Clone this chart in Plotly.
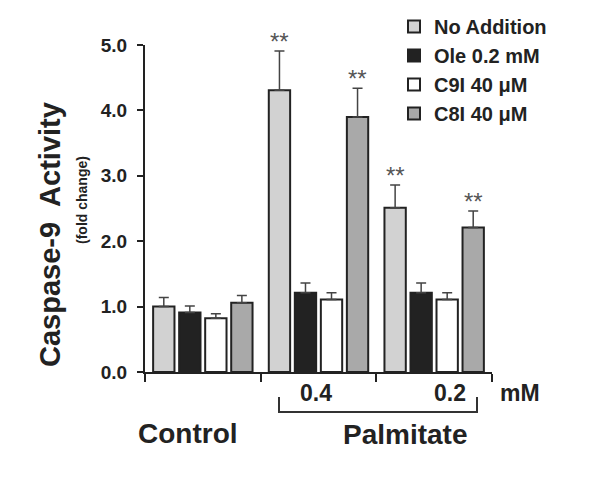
import plotly.graph_objects as go

# ---- data ----
groups = ["Control", "0.4", "0.2"]
series_names = ["No Addition", "Ole 0.2 mM", "C9I 40 \u03bcM", "C8I 40 \u03bcM"]
no_addition = [1.00, 4.31, 2.51]
no_addition_err = [0.14, 0.60, 0.35]
ole = [0.91, 1.21, 1.21]
ole_err = [0.10, 0.15, 0.15]
c9i = [0.82, 1.11, 1.11]
c9i_err = [0.07, 0.10, 0.10]
c8i = [1.06, 3.90, 2.21]
c8i_err = [0.11, 0.44, 0.25]
# significance marks: (series index, group index)
significant = [(0, 1), (3, 1), (0, 2), (3, 2)]
y_ticks = [0, 1, 2, 3, 4, 5]

values = [no_addition, ole, c9i, c8i]
errors = [no_addition_err, ole_err, c9i_err, c8i_err]
fills = ["#d2d2d2", "#222222", "#ffffff", "#a9a9a9"]

FONT = "Liberation Sans, Arial, sans-serif"
TXT = "#222222"
xpos = list(range(len(groups)))
bargap = 0.1

# page body margin offset (browser default)
OFF = 8
W, H = 600, 480
PW, PH = 347, 327
L, T = 145 - OFF, 45 - OFF
R, B = W - L - PW, H - T - PH


def xp(px):
    return (px - OFF - L) / PW


def yp(py):
    return (H - B - (py - OFF)) / PH


fig = go.Figure()
for i, name in enumerate(series_names):
    fig.add_trace(go.Bar(
        x=xpos, y=values[i], name=name,
        legendgroup=name,
        marker=dict(color=fills[i], line=dict(color="#222222", width=2)),
        error_y=dict(type="data", symmetric=False, array=errors[i],
                     arrayminus=[0] * len(groups), color="#444444",
                     thickness=1.5, width=5),
    ))

# asterisks
slot = (1 - bargap) / len(series_names)
for si, gi in significant:
    xa = xpos[gi] + (si - (len(series_names) - 1) / 2) * slot
    fig.add_annotation(x=xa, y=values[si][gi] + errors[si][gi], xref="x", yref="y",
                       text="**", showarrow=False, yanchor="bottom", yshift=-6,
                       font=dict(family=FONT, size=24, color="#555555"))


def text_at(text, xpx, ypx, size, angle=0, weight="bold"):
    fig.add_annotation(text=text, x=xp(xpx), y=yp(ypx), xref="paper", yref="paper",
                       showarrow=False, textangle=angle, xanchor="center", yanchor="middle",
                       font=dict(family=FONT, size=size, color=TXT, weight=weight))


text_at("Caspase-9  Activity", 50, 235, 29, angle=-90)
text_at("(fold change)", 82, 200, 14, angle=-90)
text_at("0.4", 316, 393, 23)
text_at("0.2", 450, 393, 23)
text_at("mM", 520, 393, 23)
text_at("Control", 188, 433, 28)
text_at("Palmitate", 405, 434, 28)

# bracket under palmitate groups
fig.add_shape(type="path", xref="paper", yref="paper",
              path=f"M {xp(279)} {yp(397)} L {xp(279)} {yp(412)} L {xp(477)} {yp(412)} L {xp(477)} {yp(397)}",
              line=dict(color="#333333", width=2))

fig.update_layout(
    width=W, height=H,
    margin=dict(l=L, r=R, t=T, b=B, pad=0, autoexpand=False),
    paper_bgcolor="white", plot_bgcolor="white",
    barmode="group", bargap=bargap, bargroupgap=0.18,
    showlegend=True,
    legend=dict(x=xp(394), y=yp(7), xanchor="left", yanchor="top",
                traceorder="grouped", tracegroupgap=0,
                font=dict(family=FONT, size=20, color=TXT, weight="bold"),
                bgcolor="rgba(0,0,0,0)"),
    xaxis=dict(range=[-0.5, 2.5], showgrid=False, zeroline=False,
               showline=True, linecolor="#222222", linewidth=2,
               tickvals=[-0.5, 0.5, 1.5, 2.5], ticks="outside", ticklen=8,
               tickwidth=2, tickcolor="#222222", showticklabels=False),
    yaxis=dict(range=[0, 5], showgrid=False, zeroline=False,
               showline=True, linecolor="#222222", linewidth=2,
               tickvals=y_ticks, tickformat=".1f", ticks="outside", ticklen=6,
               tickwidth=2, tickcolor="#222222", ticklabelstandoff=6,
               tickfont=dict(family=FONT, size=19, color=TXT, weight="bold")),
)

fig.write_html("out.html")
